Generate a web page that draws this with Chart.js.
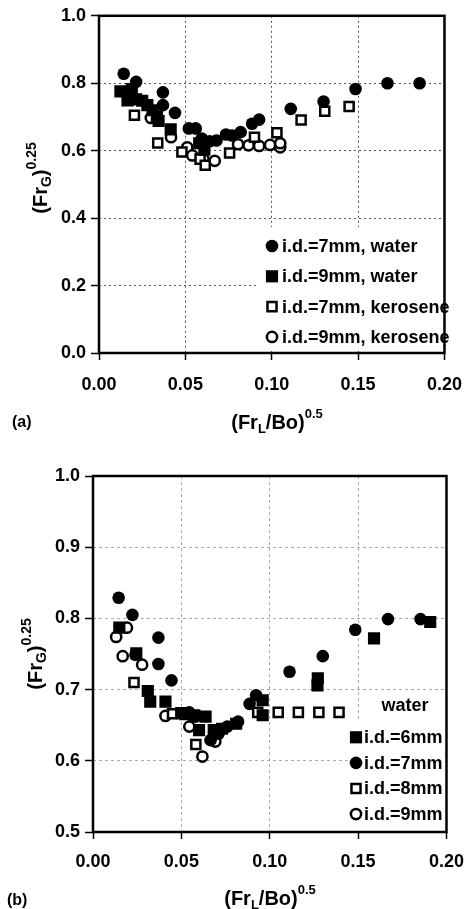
<!DOCTYPE html>
<html>
<head>
<meta charset="utf-8">
<script src="https://cdn.jsdelivr.net/npm/chart.js@4/dist/chart.umd.min.js"></script>
<style>
html,body{margin:0;padding:0;background:#fff;}
#wrap{position:relative;width:476px;height:909px;overflow:hidden;}
canvas{position:absolute;left:0;}
#ca{top:0;}
#cb{top:455px;}
</style>
</head>
<body>
<div id="wrap">
<canvas id="ca" width="476" height="455"></canvas>
<canvas id="cb" width="476" height="454"></canvas>
</div>
<script>
// ---------- data: chart (a) ----------
const xTicksA = ["0.00","0.05","0.10","0.15","0.20"];
const yTicksA = ["0.0","0.2","0.4","0.6","0.8","1.0"];
const labelsA = ["i.d.=7mm, water","i.d.=9mm, water","i.d.=7mm, kerosene","i.d.=9mm, kerosene"];
const water7A = [[0.0143,0.828],[0.0215,0.804],[0.037,0.773],[0.037,0.735],[0.044,0.712],[0.052,0.666],[0.056,0.666],[0.0595,0.636],[0.064,0.628],[0.068,0.630],[0.0735,0.648],[0.077,0.645],[0.082,0.655],[0.0886,0.680],[0.0927,0.692],[0.111,0.724],[0.130,0.746],[0.1485,0.783],[0.167,0.800],[0.1856,0.800]];
const water9A = [[0.0124,0.776],[0.0165,0.749],[0.019,0.783],[0.0215,0.752],[0.025,0.748],[0.028,0.735],[0.031,0.720],[0.0335,0.702],[0.0345,0.688],[0.0415,0.663],[0.058,0.622],[0.061,0.603]];
const kero7A = [[0.0205,0.705],[0.034,0.623],[0.048,0.596],[0.0585,0.575],[0.0615,0.557],[0.0756,0.593],[0.090,0.640],[0.103,0.653],[0.117,0.691],[0.1307,0.717],[0.1448,0.731]];
const kero9A = [[0.030,0.697],[0.0417,0.640],[0.0511,0.610],[0.054,0.586],[0.0605,0.574],[0.067,0.570],[0.0805,0.619],[0.0866,0.616],[0.0927,0.614],[0.099,0.617],[0.1049,0.610],[0.1049,0.622]];

// ---------- data: chart (b) ----------
const xTicksB = ["0.00","0.05","0.10","0.15","0.20"];
const yTicksB = ["0.5","0.6","0.7","0.8","0.9","1.0"];
const legendTitleB = "water";
const labelsB = ["i.d.=6mm","i.d.=7mm","i.d.=8mm","i.d.=9mm"];
const id6B = [[0.0149,0.787],[0.0245,0.751],[0.031,0.698],[0.0324,0.683],[0.041,0.683],[0.0499,0.667],[0.0573,0.664],[0.0637,0.662],[0.060,0.643],[0.0683,0.643],[0.073,0.645],[0.081,0.652],[0.096,0.685],[0.096,0.664],[0.1272,0.716],[0.127,0.706],[0.159,0.772],[0.1908,0.795]];
const id7B = [[0.0145,0.829],[0.0223,0.805],[0.024,0.749],[0.037,0.773],[0.037,0.736],[0.0444,0.713],[0.0545,0.668],[0.058,0.662],[0.0665,0.629],[0.071,0.638],[0.076,0.648],[0.0821,0.655],[0.0886,0.680],[0.0923,0.692],[0.1112,0.725],[0.130,0.747],[0.1484,0.784],[0.1669,0.799],[0.1853,0.799]];
const id8B = [[0.0232,0.710],[0.045,0.666],[0.052,0.665],[0.0582,0.623],[0.0932,0.668],[0.1048,0.668],[0.1162,0.668],[0.1278,0.668],[0.1392,0.668]];
const id9B = [[0.0131,0.774],[0.0192,0.787],[0.0168,0.747],[0.0278,0.735],[0.041,0.663],[0.0545,0.648],[0.0619,0.606],[0.0692,0.627]];

const FF = '"Liberation Sans", Arial, Helvetica, sans-serif';
const toPts = a => a.map(p => ({x:p[0], y:p[1]}));

const STY = {
  fillCircle: {pointStyle:'circle', pointRadius:6.3, pointBackgroundColor:'#000', pointBorderColor:'#000', pointBorderWidth:0},
  fillSquare: {pointStyle:'rect', pointRadius:8.6, pointBackgroundColor:'#000', pointBorderColor:'#000', pointBorderWidth:0},
  openSquare: {pointStyle:'rect', pointRadius:6.4, pointBackgroundColor:'#fff', pointBorderColor:'#000', pointBorderWidth:2.5},
  openCircle: {pointStyle:'circle', pointRadius:5.1, pointBackgroundColor:'#fff', pointBorderColor:'#000', pointBorderWidth:2.5}
};
function ds(label, arr, st){
  return Object.assign({label:label, data:toPts(arr), showLine:false, pointHoverRadius:st.pointRadius}, st);
}

function drawRich(ctx, parts, x, y, rotate){
  ctx.save();
  ctx.translate(x, y);
  if (rotate) ctx.rotate(-Math.PI/2);
  let total = 0;
  parts.forEach(p => { ctx.font = 'bold ' + p.size + 'px ' + FF; p.w = ctx.measureText(p.t).width; total += p.w; });
  let cx = -total/2;
  ctx.fillStyle = '#000'; ctx.textAlign = 'left'; ctx.textBaseline = 'alphabetic';
  parts.forEach(p => { ctx.font = 'bold ' + p.size + 'px ' + FF; ctx.fillText(p.t, cx, p.dy); cx += p.w; });
  ctx.restore();
}

function makeDecor(cfg){
  return {
    id: 'decor',
    beforeDatasetsDraw(chart){
      const ctx = chart.ctx, a = chart.chartArea;
      ctx.save();
      // legend background
      ctx.fillStyle = '#fff';
      const b = cfg.legendBox;
      ctx.fillRect(b[0], b[1], b[2]-b[0], b[3]-b[1]);
      // plot frame
      ctx.strokeStyle = '#000';
      ctx.lineWidth = 2.5;
      ctx.strokeRect(a.left, a.top, a.right - a.left, a.bottom - a.top);
      ctx.restore();
    },
    afterDraw(chart){
      const ctx = chart.ctx;
      ctx.save();
      // legend
      const L = cfg.legend;
      if (L.title){
        ctx.font = 'bold 18px ' + FF; ctx.fillStyle = '#000';
        ctx.textAlign = 'center'; ctx.textBaseline = 'middle';
        ctx.fillText(L.title, L.titleX, L.titleY);
      }
      L.order.forEach((di, i) => {
        const d = chart.data.datasets[di];
        const y = L.y0 + i * L.dy;
        ctx.fillStyle = d.pointBackgroundColor;
        ctx.strokeStyle = d.pointBorderColor;
        ctx.lineWidth = d.pointBorderWidth;
        Chart.helpers.drawPoint(ctx, {pointStyle:d.pointStyle, rotation:0, radius:d.pointRadius, borderWidth:d.pointBorderWidth}, L.mx, y);
        ctx.font = 'bold 18px ' + FF; ctx.fillStyle = '#000';
        ctx.textAlign = 'left'; ctx.textBaseline = 'middle';
        ctx.fillText(d.label, L.tx, y + 1);
      });
      // axis titles
      const xt = cfg.xTitle;
      drawRich(ctx, [
        {t:'(Fr', size:20, dy:0}, {t:'L', size:13, dy:4}, {t:'/Bo)', size:20, dy:0}, {t:'0.5', size:13, dy:-11}
      ], xt[0], xt[1], false);
      const yt = cfg.yTitle;
      drawRich(ctx, [
        {t:'(Fr', size:20, dy:0}, {t:'G', size:14, dy:4}, {t:')', size:20, dy:0}, {t:'0.25', size:14, dy:-11}
      ], yt[0], yt[1], true);
      // panel label
      ctx.font = 'bold 16px ' + FF; ctx.fillStyle = '#000';
      ctx.textAlign = 'left'; ctx.textBaseline = 'alphabetic';
      ctx.fillText(cfg.panel[0], cfg.panel[1], cfg.panel[2]);
      ctx.restore();
    }
  };
}

function makeOptions(o){
  const tickFont = {family:FF, size:18, weight:'bold'};
  return {
    responsive:false, animation:false, devicePixelRatio:1,
    layout:{padding:{top:o.padTop, right:21, left:0, bottom:0}},
    plugins:{legend:{display:false}, tooltip:{enabled:false}},
    scales:{
      x:{
        type:'linear', min:0, max:0.2,
        ticks:{stepSize:0.05, autoSkip:false, maxRotation:0, color:'#000', font:tickFont, padding:o.xPad,
               callback:(v, i) => o.xTicks[i]},
        grid:{color:o.gridColor, lineWidth:1, tickLength:7, tickColor:'#000', tickWidth:1.5, tickBorderDash:[]},
        border:{display:false, dash:o.dash},
        afterFit(s){ s.height = o.xH; }
      },
      y:{
        type:'linear', min:o.yMin, max:1.0,
        ticks:{stepSize:o.yStep, autoSkip:false, color:'#000', font:tickFont, padding:5,
               callback:(v, i) => o.yTicks[i]},
        grid:{color:o.gridColor, lineWidth:1, tickLength:8, tickColor:'#000', tickWidth:1.5, tickBorderDash:[]},
        border:{display:false, dash:o.dash},
        afterFit(s){ s.width = o.yW; }
      }
    }
  };
}

// chart (a)
new Chart(document.getElementById('ca'), {
  type:'scatter',
  data:{datasets:[
    ds(labelsA[0], water7A, STY.fillCircle),
    ds(labelsA[1], water9A, STY.fillSquare),
    ds(labelsA[2], kero7A, STY.openSquare),
    ds(labelsA[3], kero9A, STY.openCircle)
  ]},
  options: makeOptions({padTop:15, xH:102, yW:99, xPad:14, yMin:0, yStep:0.2, xTicks:xTicksA, yTicks:yTicksA, gridColor:'#555', dash:[2,3]}),
  plugins:[makeDecor({
    legendBox:[258, 227, 453, 351],
    legend:{order:[0,1,2,3], y0:246, dy:30.3, mx:272, tx:282},
    xTitle:[277, 429], yTitle:[47, 178], panel:['(a)', 12, 427]
  })]
});

// chart (b)
new Chart(document.getElementById('cb'), {
  type:'scatter',
  data:{datasets:[
    ds(labelsB[0], id6B, STY.fillSquare),
    ds(labelsB[1], id7B, STY.fillCircle),
    ds(labelsB[2], id8B, STY.openSquare),
    ds(labelsB[3], id9B, STY.openCircle)
  ]},
  options: makeOptions({padTop:21, xH:77, yW:93, xPad:12, yMin:0.5, yStep:0.1, xTicks:xTicksB, yTicks:yTicksB, gridColor:'#aaa', dash:[3,3]}),
  plugins:[makeDecor({
    legendBox:[349, 267, 453, 376],
    legend:{title:legendTitleB, titleX:405, titleY:251, order:[0,1,2,3], y0:282.3, dy:25.6, mx:356, tx:364},
    xTitle:[270, 450], yTitle:[42, 199], panel:['(b)', 7, 450]
  })]
});
</script>
</body>
</html>
